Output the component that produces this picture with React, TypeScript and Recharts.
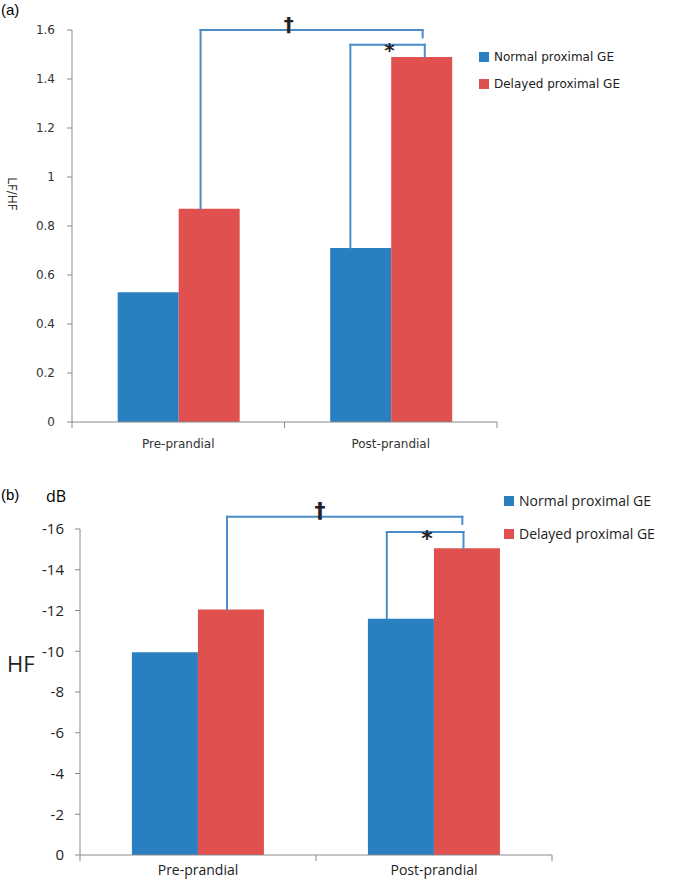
import React from 'react';
import { BarChart, Bar, XAxis, YAxis, Legend, ReferenceLine, ReferenceDot } from 'recharts';

const categories = ['Pre-prandial', 'Post-prandial'];
const seriesNames = ['Normal proximal GE', 'Delayed proximal GE'];

// (a) LF/HF ratio
const lfhfNormal = [0.53, 0.71];
const lfhfDelayed = [0.87, 1.49];
const lfhfTicks = [0, 0.2, 0.4, 0.6, 0.8, 1, 1.2, 1.4, 1.6];

// (b) HF power in dB
const hfNormal = [-9.95, -11.6];
const hfDelayed = [-12.05, -15.05];
const hfTicks = [-16, -14, -12, -10, -8, -6, -4, -2, 0];

// significance brackets: [x in category units 0..2, y in data units]
const lfhfDaggerBracket = [[0.605, 0.87], [0.605, 1.6], [1.65, 1.6], [1.65, 1.57]];
const lfhfStarBracket = [[1.31, 0.71], [1.31, 1.54], [1.66, 1.54], [1.66, 1.49]];
const hfDaggerBracket = [[0.623, -12.05], [0.623, -16.6], [1.62, -16.6], [1.62, -16.25]];
const hfStarBracket = [[1.3, -11.6], [1.3, -15.85], [1.625, -15.85], [1.625, -15.05]];
const lfhfMarks = [{ x: 1.02, y: 1.6, t: '†' }, { x: 1.494, y: 1.54, t: '*' }];
const hfMarks = [{ x: 1.017, y: -16.6, t: '†' }, { x: 1.47, y: -15.85, t: '*' }];

const BLUE = '#2a7fc1';
const RED = '#e0504f';
const LINE = '#4a8cc9';
const AXIS = '#8a8a8a';
const COLORS = [BLUE, RED];
const N = categories.length;

const lfhfData = categories.map((c, i) => ({ name: c, normal: lfhfNormal[i], delayed: lfhfDelayed[i] }));
const hfData = categories.map((c, i) => ({ name: c, normal: hfNormal[i], delayed: hfDelayed[i] }));

// positions along the plot width (0..1): boundaries and centres of categories
const posTicks = Array.from({ length: 2 * N + 1 }, (_, i) => i / (2 * N));

const bracket = (pts: number[][], key: string) =>
  pts.slice(1).map((p, i) => (
    <ReferenceLine
      key={`${key}-${i}`}
      xAxisId="n"
      segment={[{ x: pts[i][0] / N, y: pts[i][1] }, { x: p[0] / N, y: p[1] }]}
      stroke={LINE}
      strokeWidth={2}
      strokeLinecap="square"
      ifOverflow="visible"
    />
  ));

const marks = (list: { x: number; y: number; t: string }[], size: number, key: string) =>
  list.map((m, i) => (
    <ReferenceDot
      key={`${key}-${i}`}
      xAxisId="n"
      x={m.x / N}
      y={m.y}
      r={0}
      ifOverflow="visible"
      shape={(p: any) => (
        <text
          x={p.cx}
          y={m.t === '*' ? p.cy + size * 0.62 : p.cy + 1}
          textAnchor="middle"
          fontFamily="DejaVu Sans"
          fontWeight="bold"
          fontSize={size}
          fill="#222"
        >
          {m.t}
        </text>
      )}
    />
  ));

// boundary ticks at even positions, category names at odd ones
const makeTick = (fontFamily: string, fontSize: number, gap: number, fill: string) => (p: any) => {
  const k = Math.round(p.payload.value * 2 * N);
  if (k % 2 === 0) {
    return <line x1={p.x} x2={p.x} y1={p.y} y2={p.y + 6} stroke={AXIS} />;
  }
  return (
    <text x={p.x} y={p.y + gap} dy="0.71em" textAnchor="middle" fontFamily={fontFamily} fontSize={fontSize} fill={fill}>
      {categories[(k - 1) / 2]}
    </text>
  );
};

const makeLegend = (fontFamily: string, fontSize: number, rowH: number) => () => (
  <div style={{ fontFamily, fontSize, color: '#222' }}>
    {seriesNames.map((n, i) => (
      <div key={n} style={{ display: 'flex', alignItems: 'center', height: rowH, whiteSpace: 'nowrap' }}>
        <span style={{ display: 'inline-block', width: 10, height: 10, background: COLORS[i], marginRight: 5 }} />
        {n}
      </div>
    ))}
  </div>
);

export default function App() {
  return (
    <div style={{ position: 'relative', width: 675, height: 885, background: '#fff' }}>
      <style>{'body{margin:0}'}</style>
      <div style={{ position: 'absolute', left: 1, top: 1, fontFamily: 'Liberation Sans', fontSize: 15 }}>(a)</div>
      <div style={{ position: 'absolute', left: 1, top: 486, fontFamily: 'Liberation Sans', fontSize: 15 }}>(b)</div>
      <div style={{ position: 'absolute', left: 46, top: 485, fontFamily: 'Open Sans', fontSize: 16 }}>dB</div>

      <div style={{ position: 'absolute', left: 0, top: 0 }}>
        <BarChart width={675} height={465} data={lfhfData} margin={{ top: 30, right: 178, bottom: 13, left: 22 }} barCategoryGap="21.5%" barGap={0}>
          <XAxis dataKey="name" hide height={0} />
          <XAxis
            xAxisId="n"
            type="number"
            domain={[0, 1]}
            ticks={posTicks}
            allowDataOverflow
            height={30}
            stroke={AXIS}
            tickLine={false}
            tickSize={0}
            tickMargin={0}
            tick={makeTick('DejaVu Sans', 12, 17, '#333')}
          />
          <YAxis
            width={50}
            domain={[0, 1.6]}
            ticks={lfhfTicks}
            stroke={AXIS}
            tickSize={5}
            tickMargin={12}
            tick={{ fill: '#333', fontFamily: 'DejaVu Sans', fontSize: 12 }}
            label={{
              content: () => (
                <text x={12} y={194} transform="rotate(90 12 194)" textAnchor="middle" dominantBaseline="central" fontFamily="DejaVu Sans" fontSize={12} fill="#333">
                  LF/HF
                </text>
              ),
            }}
          />
          <Legend layout="vertical" align="center" verticalAlign="middle" wrapperStyle={{ top: 43, left: 479, width: 'auto' }} content={makeLegend('DejaVu Sans', 12, 27)} />
          <Bar dataKey="normal" name={seriesNames[0]} fill={BLUE} isAnimationActive={false} />
          <Bar dataKey="delayed" name={seriesNames[1]} fill={RED} isAnimationActive={false} />
          {bracket(lfhfDaggerBracket, 'ad')}
          {bracket(lfhfStarBracket, 'as')}
          {marks(lfhfMarks, 20, 'am')}
        </BarChart>
      </div>

      <div style={{ position: 'absolute', left: 0, top: 470 }}>
        <BarChart width={675} height={415} data={hfData} margin={{ top: 59, right: 123, bottom: 0, left: 25 }} barCategoryGap="22%" barGap={0}>
          <XAxis dataKey="name" hide height={0} />
          <XAxis
            xAxisId="n"
            type="number"
            domain={[0, 1]}
            ticks={posTicks}
            allowDataOverflow
            height={30}
            stroke={AXIS}
            tickLine={false}
            tickSize={0}
            tickMargin={0}
            tick={makeTick('Open Sans', 14, 10, '#222')}
          />
          <YAxis
            width={55}
            reversed
            domain={[-16, 0]}
            ticks={hfTicks}
            stroke={AXIS}
            tickSize={5}
            tickMargin={11}
            tick={{ fill: '#222', fontFamily: 'Open Sans', fontSize: 15 }}
            label={{
              content: () => (
                <text x={7} y={193} dominantBaseline="central" fontFamily="Open Sans" fontSize={22} fill="#222">
                  HF
                </text>
              ),
            }}
          />
          <Legend layout="vertical" align="center" verticalAlign="middle" wrapperStyle={{ top: 14, left: 504, width: 'auto' }} content={makeLegend('Open Sans', 14, 33)} />
          <Bar dataKey="normal" name={seriesNames[0]} fill={BLUE} isAnimationActive={false} />
          <Bar dataKey="delayed" name={seriesNames[1]} fill={RED} isAnimationActive={false} />
          {bracket(hfDaggerBracket, 'bd')}
          {bracket(hfStarBracket, 'bs')}
          {marks(hfMarks, 22, 'bm')}
        </BarChart>
      </div>
    </div>
  );
}
